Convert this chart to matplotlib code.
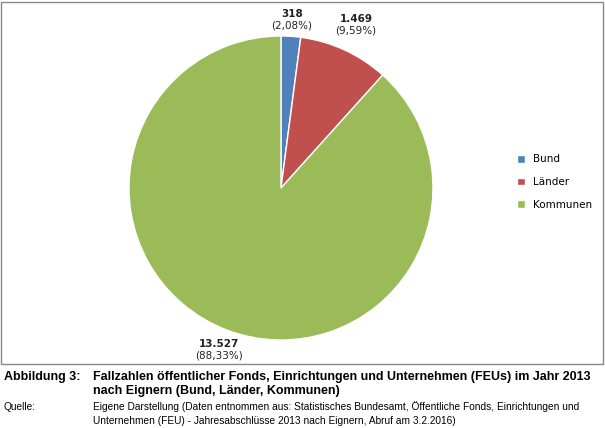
import numpy as np
import matplotlib
matplotlib.use("Agg")
import matplotlib.pyplot as plt
from matplotlib.patches import Rectangle

categories = ["Bund", "Länder", "Kommunen"]
values = [318, 1469, 13527]
value_labels = ["318", "1.469", "13.527"]
pct_labels = ["(2,08%)", "(9,59%)", "(88,33%)"]
colors = ["#4F81BD", "#C0504D", "#9BBB59"]

plt.rcParams['font.family'] = ['DejaVu Sans']
fig = plt.figure(figsize=(6.05, 4.28), dpi=100)
fig.patches.append(Rectangle((1/605, 1-364/428), 602/605, 362/428, transform=fig.transFigure,
                             fill=False, edgecolor="#888888", lw=1))
ax = fig.add_axes([0.2132, 0.2056, 0.5025, 0.7103])
wedges, _ = ax.pie(values, colors=colors, startangle=90, counterclock=False,
                   wedgeprops=dict(edgecolor="white", linewidth=1))
ax.set_xlim(-1, 1); ax.set_ylim(-1, 1); ax.set_aspect('equal')
dists = [1.11, 1.18, 1.14]
for w, vl, pl, d in zip(wedges, value_labels, pct_labels, dists):
    a = np.deg2rad((w.theta1 + w.theta2) / 2)
    x, y = d*np.cos(a), d*np.sin(a)
    ax.text(x, y + 0.005, vl, ha="center", va="bottom", fontsize=7.5, fontweight="bold", color="#222222")
    ax.text(x, y - 0.005, pl, ha="center", va="top", fontsize=7.5, color="#222222")
leg = fig.legend(wedges, categories, loc="center left", bbox_to_anchor=(508/605, 1-182/428),
                 frameon=False, fontsize=7.5, handlelength=0.7, handleheight=0.7, labelspacing=1.2)
bf = ['Liberation Sans']
fig.text(4/605, 1-377/428, "Abbildung 3:", fontsize=9, fontweight="bold", va="center", family=bf)
fig.text(93/605, 1-377/428, "Fallzahlen öffentlicher Fonds, Einrichtungen und Unternehmen (FEUs) im Jahr 2013",
         fontsize=9, fontweight="bold", va="center", family=bf)
fig.text(93/605, 1-391/428, "nach Eignern (Bund, Länder, Kommunen)", fontsize=9, fontweight="bold", va="center", family=bf)
fig.text(4/605, 1-407/428, "Quelle:", fontsize=7.3, va="center", family=bf)
fig.text(93/605, 1-407/428, "Eigene Darstellung (Daten entnommen aus: Statistisches Bundesamt, Öffentliche Fonds, Einrichtungen und",
         fontsize=7.3, va="center", family=bf)
fig.text(93/605, 1-421/428, "Unternehmen (FEU) - Jahresabschlüsse 2013 nach Eignern, Abruf am 3.2.2016)",
         fontsize=7.3, va="center", family=bf)
fig.savefig("out.png", dpi=100)
